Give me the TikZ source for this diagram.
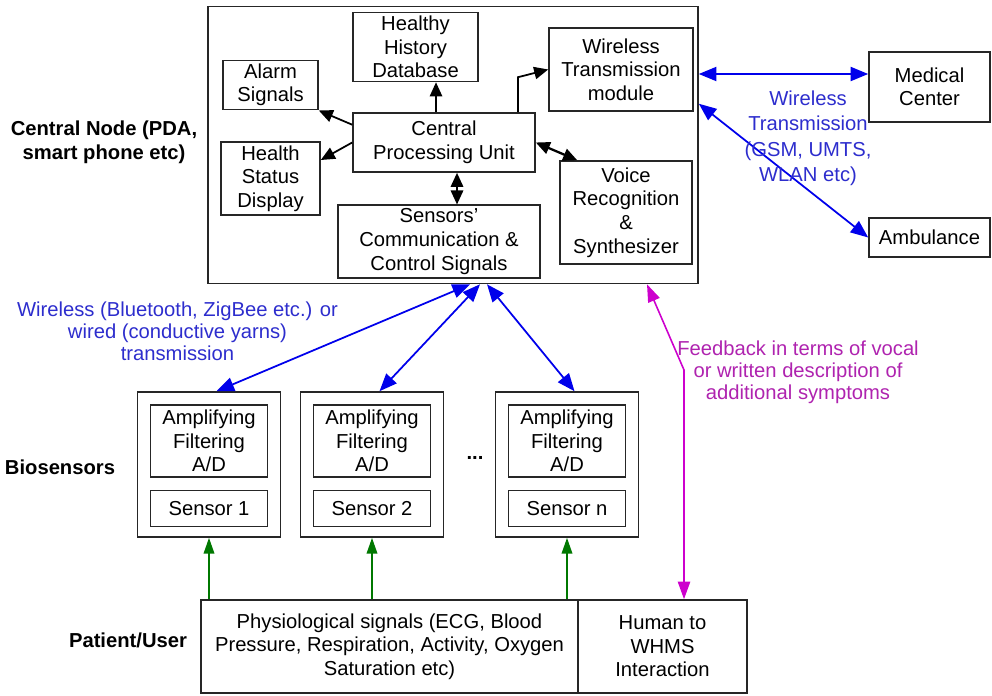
\documentclass[tikz,border=0pt]{standalone}
\usepackage{fontspec}
\setmainfont{Liberation Sans}
\usetikzlibrary{positioning, arrows.meta}
\definecolor{myblue}{RGB}{0,0,235}
\definecolor{mybluetext}{RGB}{45,45,205}
\definecolor{mypink}{RGB}{205,0,205}
\definecolor{mypinktext}{RGB}{175,35,175}
\definecolor{mygreen}{RGB}{0,120,0}
\tikzset{
  block/.style={draw=black!85, line width=0.9pt, align=center, inner sep=2pt,
    font=\fontsize{11.5}{13.4}\selectfont},
  innerbox/.style={block, minimum width=2.34cm},
  sidetext/.style={align=center, inner sep=0, font=\fontsize{11.5}{13.4}\selectfont\bfseries},
  bluetext/.style={align=center, inner sep=0, text=mybluetext,
    font=\fontsize{11.5}{12.6}\selectfont},
  pinktext/.style={align=center, inner sep=0, text=mypinktext,
    font=\fontsize{11.5}{12.6}\selectfont},
  blkarr/.style={-{Triangle[length=8pt,width=7pt]}, line width=1pt},
  blkdbl/.style={{Triangle[length=8pt,width=7pt]}-{Triangle[length=8pt,width=7pt]}, line width=1.3pt},
  bluedbl/.style={{Triangle[length=10pt,width=8pt]}-{Triangle[length=10pt,width=8pt]},
    line width=1pt, color=myblue},
  greenarr/.style={-{Triangle[length=9pt,width=6pt]}, line width=1pt, color=mygreen},
  pinkdbl/.style={{Triangle[length=10pt,width=7pt]}-{Triangle[length=10pt,width=7pt]},
    line width=0.9pt, color=mypink}
}
\begin{document}
\begin{tikzpicture}
\useasboundingbox (0,0) rectangle (19.84,13.9);

% central node
\node [block, minimum width=9.8cm, minimum height=5.54cm] (central) at (9.06,11.0) {};
\node [block, minimum width=2.5cm, minimum height=1.32cm] (hhd) at (8.31,12.96) {Healthy\\History\\Database};
\node [block, minimum width=1.9cm, minimum height=0.96cm] (alarm) at (5.41,12.2) {Alarm\\Signals};
\node [block, minimum width=1.98cm, minimum height=1.46cm] (health) at (5.41,10.33) {Health\\Status\\Display};
\node [block, minimum width=3.64cm, minimum height=1.18cm] (cpu) at (8.88,11.05) {Central\\Processing Unit};
\node [block, minimum width=2.88cm, minimum height=1.66cm] (wtm) at (12.42,12.51) {Wireless\\Transmission\\module};
\node [block, minimum width=2.64cm, minimum height=2.06cm] (voice) at (12.52,9.65) {Voice\\Recognition\\\&\\Synthesizer};
\node [block, minimum width=4.04cm, minimum height=1.38cm] (comm) at (8.78,9.07) {Sensors'\\Communication \&\\Control Signals};

\draw[blkarr] ([yshift=-0.25cm]cpu.north west) -- (alarm.south east);
\draw[blkarr] (cpu.west) -- ([yshift=0.37cm]health.east);
\coordinate (dbx) at ([xshift=-0.16cm]cpu.north);
\draw[blkarr] (dbx) -- (dbx |- hhd.south);
\coordinate (wtx) at ([xshift=1.48cm]cpu.north);
\draw[blkarr] (wtx) -- ++(0,0.7) -- (wtm.west);
\draw[blkdbl] (cpu.east) -- ([xshift=0.36cm]voice.north west);
\coordinate (cmx) at ([xshift=0.26cm]cpu.south);
\draw[blkdbl] (cmx) -- (cmx |- comm.north);

% remote side
\node [block, minimum width=2.42cm, minimum height=1.4cm] (medical) at (18.59,12.16) {Medical\\Center};
\node [block, minimum width=2.42cm, minimum height=0.78cm] (ambulance) at (18.59,9.15) {Ambulance};
\coordinate (mcin) at ([yshift=0.26cm]medical.west);
\draw[bluedbl] (mcin -| central.east) -- (mcin);
\draw[bluedbl] ([yshift=-1.96cm]central.north east) -- (ambulance.west);
\node [bluetext, font=\fontsize{11.5}{14.5}\selectfont] (wtlabel) at (16.16,11.13) {Wireless\\Transmission\\(GSM, UMTS,\\WLAN etc)};

% biosensors
\foreach \x/\k in {4.18/1, 7.44/2, 11.34/n} {
  \node [block, minimum width=2.86cm, minimum height=2.9cm] (bio\k) at (\x,4.61) {};
  \node [innerbox, minimum height=1.44cm] (amp\k) at (\x,5.08) {Amplifying\\Filtering\\A/D};
  \node [innerbox, minimum height=0.72cm, below=0.24cm of amp\k] (sen\k) {Sensor \k};
}
\node [inner sep=0, font=\fontsize{11.5}{13.4}\selectfont\bfseries] (dots) at (9.5,4.75) {...};

\foreach \k/\dx in {1/0.34, 2/0.54, n/0.68}
  \draw[bluedbl] ([xshift=\dx cm]central.south) -- ([xshift=0.15cm]bio\k.north);
\node [bluetext] (bluelabel) at (3.55,7.28) {Wireless (Bluetooth, ZigBee etc.) or\\wired (conductive yarns)\\transmission};

% patient
\node [block, minimum width=7.54cm, minimum height=1.86cm] (patient) at (7.79,0.97) {Physiological signals (ECG, Blood\\Pressure, Respiration, Activity, Oxygen\\Saturation etc)};
\node [block, minimum width=3.38cm, minimum height=1.86cm] (human) at (13.25,0.97) {Human to\\WHMS\\Interaction};

\foreach \k in {1, 2, n}
  \draw[greenarr] (bio\k.south |- patient.north) -- (bio\k.south);

\coordinate (fbtop) at ([xshift=3.88cm]central.south);
\coordinate (fbbend) at (13.68,6.5);
\draw[pinkdbl] (fbtop) -- (fbbend) -- (fbbend |- human.north);
\node [pinktext] (fblabel) at (15.96,6.45) {Feedback in terms of vocal\\or written description of\\additional symptoms};

% row titles
\node [sidetext] (ctitle) at (2.08,11.06) {Central Node (PDA,\\smart phone etc)};
\node [sidetext] (btitle) at (1.2,4.56) {Biosensors};
\node [sidetext] (ptitle) at (2.56,1.1) {Patient/User};
\end{tikzpicture}
\end{document}
